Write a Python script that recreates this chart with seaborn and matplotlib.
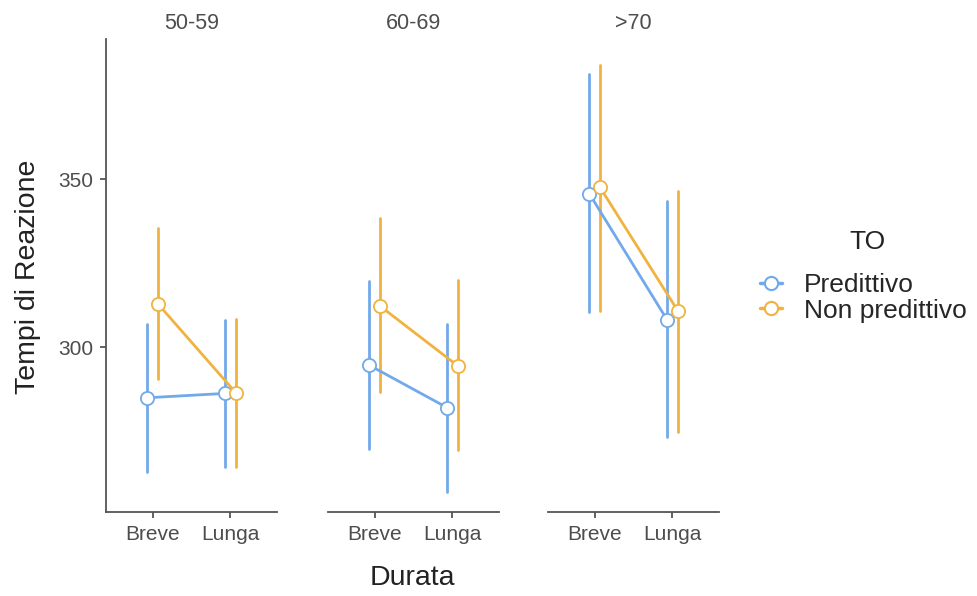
import pandas as pd
import numpy as np
import seaborn as sns
import matplotlib.pyplot as plt

# === Dati (medie e intervalli) ===
eta = ["50-59", "60-69", ">70"]
durata = ["Breve", "Lunga"]
to_levels = ["Predittivo", "Non predittivo"]

# ordine: [eta][durata]
pred_media = [[284.9, 286.2], [294.6, 282.0], [345.7, 308.2]]
pred_low = [[262.9, 264.4], [269.6, 256.9], [310.3, 273.1]]
pred_high = [[306.8, 308.0], [319.6, 307.0], [381.3, 343.5]]

nonpred_media = [[312.8, 286.4], [312.2, 294.4], [347.5, 310.8]]
nonpred_low = [[290.5, 264.4], [286.5, 269.3], [310.7, 274.8]]
nonpred_high = [[335.5, 308.4], [338.3, 319.9], [383.9, 346.5]]

colori = {"Predittivo": "#72A9EA", "Non predittivo": "#F0B33F"}

# === Tabella lunga: basso / media / alto per ogni cella ===
rows = []
serie = {"Predittivo": (pred_low, pred_media, pred_high),
         "Non predittivo": (nonpred_low, nonpred_media, nonpred_high)}
for to, (lo, me, hi) in serie.items():
    for i, e in enumerate(eta):
        for j, d in enumerate(durata):
            for v in (lo[i][j], me[i][j], hi[i][j]):
                rows.append({"Eta": e, "Durata": d, "TO": to, "RT": v})
df = pd.DataFrame(rows)

# === Grafico ===
sns.set_style("white")
plt.rcParams["font.family"] = ["Liberation Sans", "DejaVu Sans"]

fig = plt.figure(figsize=(9.78, 5.96), dpi=100)
lefts = [106 / 978, 328 / 978, 548 / 978]
bottom = 84 / 596
width = 171 / 978
height = 473 / 596
grey = "#4D4D4D"
asse = "#555555"

axes = []
for k, e in enumerate(eta):
    ax = fig.add_axes([lefts[k], bottom, width, height])
    sns.pointplot(data=df[df["Eta"] == e], x="Durata", y="RT", hue="TO",
                  order=durata, hue_order=to_levels, palette=colori,
                  estimator="median", errorbar=("pi", 100), dodge=0.14,
                  markers="o", markersize=9.5, linewidth=2, err_kws={"linewidth": 2},
                  ax=ax, legend=(k == 2))
    for ln in ax.lines:
        if ln.get_marker() not in (None, "", "None"):
            ln.set_markerfacecolor("white")
            ln.set_markeredgewidth(1.3)
            ln.set_zorder(5)
    ax.set_xlim(-0.6, 1.6)
    ax.set_ylim(250.9, 391.7)
    ax.set_yticks([300, 350])
    ax.set_title(e, fontsize=15.5, color=grey, pad=7)
    ax.set_xlabel("")
    ax.set_ylabel("")
    for s in ["top", "right"]:
        ax.spines[s].set_visible(False)
    for s in ["bottom", "left"]:
        ax.spines[s].set_color(asse)
        ax.spines[s].set_linewidth(1.3)
    ax.tick_params(axis="both", length=4, width=1.3, color=asse, pad=5,
                   labelsize=15, labelcolor=grey, bottom=True, left=True)
    if k > 0:
        ax.spines["left"].set_visible(False)
        ax.tick_params(axis="y", left=False, labelleft=False)
    axes.append(ax)

fig.text(28 / 978, 1 - 277 / 596, "Tempi di Reazione", fontsize=20.5,
         color="#222222", rotation=90, ha="center", va="center")
fig.text(412 / 978, 1 - 578 / 596, "Durata", fontsize=20.5, color="#222222",
         ha="center", va="center")

leg = axes[2].get_legend()
handles = leg.legend_handles
labels = [t.get_text() for t in leg.get_texts()]
leg.remove()
for h in handles:
    h.set_markerfacecolor("white")
    h.set_linewidth(2.5)
fig.text(867 / 978, 1 - 242 / 596, "TO", fontsize=19, color="#222222",
         ha="center", va="center")
fig.legend(handles, labels, loc="center left",
           bbox_to_anchor=(760 / 978, 1 - 298 / 596), frameon=False,
           fontsize=19, handlelength=0.85, handletextpad=0.8,
           labelspacing=0.05, borderaxespad=0, borderpad=0)

plt.savefig("out.png", dpi=100)
